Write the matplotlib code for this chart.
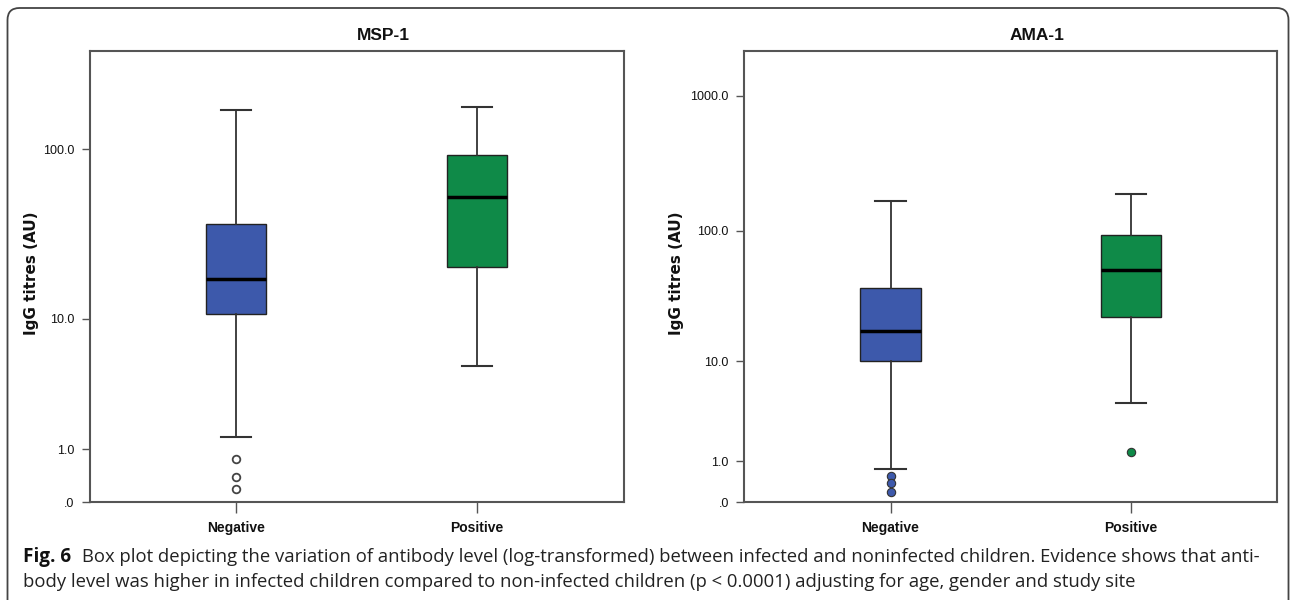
import numpy as np
import matplotlib
matplotlib.use('Agg')
import matplotlib.pyplot as plt
from matplotlib.patches import FancyBboxPatch
from matplotlib.transforms import IdentityTransform

# values (IgG titres, AU)
groups = ['Negative', 'Positive']
msp1_whislo = [1.34, 4.95]
msp1_q1 = [10.7, 20.5]
msp1_med = [17.4, 53.3]
msp1_q3 = [37.0, 92.7]
msp1_whishi = [168.0, 175.0]
msp1_fliers = [[0.76, 0.38, 0.19], []]

ama1_whislo = [0.75, 4.36]
ama1_q1 = [10.07, 22.2]
ama1_med = [17.5, 50.9]
ama1_q3 = [36.9, 93.0]
ama1_whishi = [166.0, 187.0]
ama1_fliers = [[0.565, 0.374, 0.185], [1.33]]

box_colors = ['#3d59ab', '#0f8a48']
ytick_vals = [0, 1, 10, 100, 1000]
ytick_labels = ['.0', '1.0', '10.0', '100.0', '1000.0']

caption_bold = 'Fig. 6'
caption_1 = ('Box plot depicting the variation of antibody level (log-transformed) between '
             'infected and noninfected children. Evidence shows that anti-')
caption_2 = ('body level was higher in infected children compared to non-infected children '
             '(p < 0.0001) adjusting for age, gender and study site')

sans = ['Liberation Sans', 'DejaVu Sans']


def fwd(x):
    return np.log10(1 + np.clip(x, 0, None))


def inv(y):
    return 10 ** y - 1


def draw_panel(ax, title, whislo, q1, med, q3, whishi, fliers, ymax, filled, label_x):
    stats = []
    for i in range(len(groups)):
        stats.append({'whislo': whislo[i], 'q1': q1[i], 'med': med[i], 'q3': q3[i],
                      'whishi': whishi[i], 'fliers': np.array(fliers[i])})
    ax.set_yscale('function', functions=(fwd, inv))
    bp = ax.bxp(stats, positions=[1, 2], widths=0.25, capwidths=0.125, patch_artist=True,
                boxprops=dict(edgecolor='#222222', linewidth=1.0),
                medianprops=dict(color='black', linewidth=2.5),
                whiskerprops=dict(color='#333333', linewidth=1.3),
                capprops=dict(color='#333333', linewidth=1.5))
    for patch, c in zip(bp['boxes'], box_colors):
        patch.set_facecolor(c)
    for fl, c in zip(bp['fliers'], box_colors):
        if filled:
            fl.set(marker='o', markersize=6, markerfacecolor=c, markeredgecolor='#333333',
                   markeredgewidth=0.8)
        else:
            fl.set(marker='o', markersize=5.5, markerfacecolor='white', markeredgecolor='#444444',
                   markeredgewidth=1.3)
    ax.set_xlim(0.39, 2.61)
    ax.set_ylim(0, ymax)
    ticks = [v for v in ytick_vals if v <= ymax]
    ax.set_yticks(ticks)
    ax.set_yticklabels(ytick_labels[:len(ticks)])
    ax.minorticks_off()
    ax.set_xticks([1, 2])
    ax.set_xticklabels(groups, fontweight='bold', fontsize=10, family=sans)
    for t in ax.get_yticklabels():
        t.set_family(sans)
        t.set_fontsize(9)
    for s in ax.spines.values():
        s.set_color('#555555')
        s.set_linewidth(1.5)
    ax.tick_params(axis='y', direction='out', length=6, width=1.0, color='#555555', pad=5,
                   labelcolor='#111111')
    ax.tick_params(axis='x', direction='out', length=8, width=1.0, color='#555555', pad=6,
                   labelcolor='#111111')
    ax.set_title(title, x=0.55, pad=8, fontsize=12.5, fontweight='bold', family=sans,
                 color='#111111')
    ax.set_ylabel('IgG titres (AU)', fontsize=11, fontweight='bold', family='DejaVu Sans',
                  va='center', color='#111111')
    ax.yaxis.set_label_coords(label_x, 0.507)


fig = plt.figure(figsize=(12.92, 6), dpi=100)
ax1 = fig.add_axes([0.0693, 0.1633, 0.4133, 0.7517])
ax2 = fig.add_axes([0.5759, 0.1633, 0.4125, 0.7517])

draw_panel(ax1, 'MSP-1', msp1_whislo, msp1_q1, msp1_med, msp1_q3, msp1_whishi, msp1_fliers,
           364, False, -(89.6 - 32) / 534)
draw_panel(ax2, 'AMA-1', ama1_whislo, ama1_q1, ama1_med, ama1_q3, ama1_whishi, ama1_fliers,
           2150, True, -(744 - 676) / 533)

# outer rounded frame, bottom edge runs off the picture
frame = FancyBboxPatch((7.5, -30), 1281, 622, boxstyle='round,pad=0,rounding_size=12',
                       transform=IdentityTransform(), facecolor='none', edgecolor='#444444',
                       linewidth=1.3)
fig.patches.append(frame)

# caption, sized so the second line fits the width seen in the picture
cap_font = ['Open Sans', 'DejaVu Sans']
renderer = fig.canvas.get_renderer()
probe = fig.text(0, 0, caption_2, fontsize=12, family=cap_font)
w = probe.get_window_extent(renderer).width
probe.remove()
cap_size = 12 * 1104 / w

fb = fig.text(23 / 1292, 1 - 562 / 600, caption_bold, fontsize=cap_size * 1.02, family=cap_font,
              fontweight='bold', va='baseline', color='#111111')
bw = fb.get_window_extent(renderer).x1
fig.text((bw + 11) / 1292, 1 - 562 / 600, caption_1, fontsize=cap_size, family=cap_font,
         va='baseline', color='#222222')
fig.text(23 / 1292, 1 - 587 / 600, caption_2, fontsize=cap_size, family=cap_font,
         va='baseline', color='#222222')

fig.savefig('out.png', dpi=100)
